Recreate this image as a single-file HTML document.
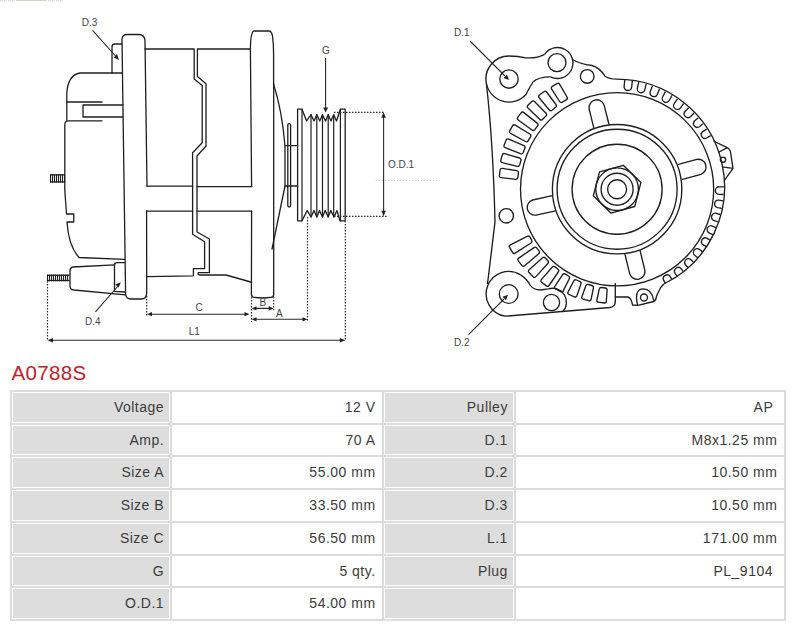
<!DOCTYPE html>
<html><head><meta charset="utf-8">
<style>
html,body{margin:0;padding:0;background:#fff;width:800px;height:627px;overflow:hidden}
body{position:relative;font-family:"Liberation Sans",sans-serif}
svg.draw{position:absolute;left:0;top:0}
.title{position:absolute;left:11.5px;top:360.5px;font-size:20.5px;line-height:24px;color:#c4222a;letter-spacing:0.35px}
.tbl{position:absolute;left:10px;top:390px;width:776.2px;height:231.2px;background:#ddd}
.cl,.cv{position:absolute;box-sizing:border-box;background:#fff}
.cl{border:1.2px solid #fff;background:#ddd}
.tx{position:absolute;font-size:14px;line-height:20px;color:#3c3c3c;letter-spacing:0.5px;white-space:pre}
</style></head><body>
<svg class="draw" width="800" height="360" viewBox="0 0 800 360">
<path d="M0,0.5 H64" stroke="#d4d4d4" stroke-width="1" stroke-dasharray="1,1"/>
<path d="M16,0.5 H46" stroke="#d9cfc2" stroke-width="1"/>
<g fill="none" stroke="#1e1e1e" stroke-width="1.3" stroke-linejoin="round" stroke-linecap="round">
<!-- rear cover top -->
<path d="M112,73 H80 Q68,75 66.8,93 V120.5"/>
<path d="M67,102 H102"/>
<path d="M123,105 H83 V117 H123"/>
<path d="M102,120.8 H68 Q64.8,121.2 64.8,125 V190 L66.5,214 H73.8 V222 H67 Q68.5,246 79,257.5 L124.5,259.4"/>
<!-- stud -->
<rect x="50" y="174.2" width="14.700000000000003" height="1.3" fill="#1e1e1e" stroke="none"/><rect x="50" y="181.29999999999998" width="14.700000000000003" height="1.3" fill="#1e1e1e" stroke="none"/><rect x="50" y="174.2" width="1.1" height="8.400000000000006" fill="#1e1e1e" stroke="none"/><rect x="52" y="174.2" width="1.1" height="8.400000000000006" fill="#1e1e1e" stroke="none"/><rect x="54" y="174.2" width="1.1" height="8.400000000000006" fill="#1e1e1e" stroke="none"/><rect x="56" y="174.2" width="1.1" height="8.400000000000006" fill="#1e1e1e" stroke="none"/><rect x="58" y="174.2" width="1.1" height="8.400000000000006" fill="#1e1e1e" stroke="none"/><rect x="60" y="174.2" width="1.1" height="8.400000000000006" fill="#1e1e1e" stroke="none"/><rect x="62" y="174.2" width="1.1" height="8.400000000000006" fill="#1e1e1e" stroke="none"/><rect x="64" y="174.2" width="1.1" height="8.400000000000006" fill="#1e1e1e" stroke="none"/>
<!-- D3 tab -->
<path d="M122,73 H112 V47 Q112,44 115,44 H122"/>
<!-- left flange -->
<path d="M147,186.2 L145,41 Q144.8,34.5 138.5,34.5 H127 Q122.2,34.5 122,39.5 L125.6,294 Q125.8,299 131,299 H141 Q146.7,299 146.7,293 L146.6,211"/>
<!-- housing -->
<path d="M145,49 H194.2 V79 L202.2,85.4 V142.7 L192.6,152.7 V234.3 L204.6,241.8 V268.6 H193.4 V275.8 L147,276.6"/>
<path d="M250.4,49 H197.4 V76.6 L206,83.8 V146 L197,156 V232 L209.4,239 V272.6 H198.2 Q197.5,275 200,275 H226 L250.8,282"/>
<path d="M147,186.2 H192.6 M197,186.6 H251.8 M146.4,211.2 H192.6 M197,211.2 H251.6"/>
<!-- terminal -->
<path d="M114.5,264.8 L73,267 Q70,267.5 70,271 V286 Q70,289.5 74,290 L125.5,294.9"/>
<path d="M125,262.6 H117 Q114.5,262.6 114.5,265 V291.3 L125.3,292"/>
<rect x="47" y="274.6" width="22.5" height="1.3" fill="#1e1e1e" stroke="none"/><rect x="47" y="279.9" width="22.5" height="1.3" fill="#1e1e1e" stroke="none"/><rect x="47" y="274.6" width="1.1" height="6.599999999999966" fill="#1e1e1e" stroke="none"/><rect x="49" y="274.6" width="1.1" height="6.599999999999966" fill="#1e1e1e" stroke="none"/><rect x="51" y="274.6" width="1.1" height="6.599999999999966" fill="#1e1e1e" stroke="none"/><rect x="53" y="274.6" width="1.1" height="6.599999999999966" fill="#1e1e1e" stroke="none"/><rect x="55" y="274.6" width="1.1" height="6.599999999999966" fill="#1e1e1e" stroke="none"/><rect x="57" y="274.6" width="1.1" height="6.599999999999966" fill="#1e1e1e" stroke="none"/><rect x="59" y="274.6" width="1.1" height="6.599999999999966" fill="#1e1e1e" stroke="none"/><rect x="61" y="274.6" width="1.1" height="6.599999999999966" fill="#1e1e1e" stroke="none"/><rect x="63" y="274.6" width="1.1" height="6.599999999999966" fill="#1e1e1e" stroke="none"/><rect x="65" y="274.6" width="1.1" height="6.599999999999966" fill="#1e1e1e" stroke="none"/><rect x="67" y="274.6" width="1.1" height="6.599999999999966" fill="#1e1e1e" stroke="none"/>
<!-- front flange -->
<path d="M251.6,186.6 L250.4,48 Q250.6,33 253.5,31 H269 Q271.5,31 272.5,36 Q273.6,44 273.6,55 V84"/>
<path d="M251.6,211.2 L251.4,294.5 Q251.6,297.3 254.5,297.3 Q262,298.3 270.8,297.3 Q273.7,297.3 273.7,294.5 V84"/>
<path d="M273.5,84 Q282,110 285,146 V186 L272,249"/>
<!-- pulley -->
<rect x="287.8" y="123.6" width="2.8" height="83.4" rx="1.4"/>
<path d="M285,145.7 H297.6 M285,186 H297.6"/>
<path d="M297.6,220.8 V109.2 H302 L306.6,121 L311,114.7 L314,121 L316.8,114.7 L319.8,121 L322.5,114.7 L325.5,121 L328.2,114.7 L331,121 L333.7,114.7 L336.5,121 L340.4,109.2 H345.2 V220.8 H340 L337,210.6 L334,217 L330.8,210.6 L328.2,217 L325.2,210.6 L322.5,217 L319.5,210.6 L316.8,217 L314,210.6 L311,217 L307.2,210.6 L302,220.8 Z"/>
<path d="M302,109.2 V220.8 M340.4,109.2 V220.8 M311,114.7 V217 M316.8,114.7 V217 M322.5,114.7 V217 M328.2,114.7 V217 M333.7,114.7 V217" stroke-width="1.2"/>
</g>
<!-- dimensions -->
<g fill="none" stroke="#2a2a2a" stroke-width="1.1">
<path d="M47.5,281 V341 M146.7,296 V316 M251.5,297 V322 M273.7,297 V310 M307.5,217 V322 M345.3,221 V341 M334,112.3 H383.6 M334,216.3 H387" stroke-dasharray="1.5,1.5" stroke-width="1.2"/>
<path d="M375.8,180.5 H439.4" stroke="#bbb" stroke-dasharray="1,2"/>
<path d="M151,314.2 H246 M255,308.4 H270 M255,319.3 H304 M51,340.3 H342 M383.6,116 V212 M325.6,58 V109 M92.6,30.4 L115.5,56 M95.4,311.8 L118.5,285.5 M470,41 L505,76 M468.5,334.6 L504,299"/>
</g>
<g fill="#222" stroke="none">
<path d="M147,314.2 l5,-2.1 v4.2z M249.5,314.2 l-5,-2.1 v4.2z"/>
<path d="M251.5,308.4 l5,-2.1 v4.2z M273.7,308.4 l-5,-2.1 v4.2z"/>
<path d="M251.5,319.3 l5,-2.1 v4.2z M307.5,319.3 l-5,-2.1 v4.2z"/>
<path d="M47.5,340.3 l5.5,-2.3 v4.6z M345.3,340.3 l-5.5,-2.3 v4.6z"/>
<path d="M383.6,112.3 l-2.3,5.5 h4.6z M383.6,216.3 l-2.3,-5.5 h4.6z"/>
<path d="M325.6,112.5 l-2.5,-5 h5z"/>
<path d="M119,60 l-5.2,-2.6 l3.2,-3.4z M120.8,282.2 l-2.2,5.2 l-3.4,-3z"/>
<path d="M509,80 l-5.5,-2 l3.5,-3.5z M508,294.7 l-2,5.5 l-3.5,-3.5z"/>
</g>
<g font-family="Liberation Sans, sans-serif" font-size="10" fill="#444">
<text x="81.8" y="25.8">D.3</text>
<text x="85" y="324.6">D.4</text>
<text x="322" y="53.5">G</text>
<text x="388" y="168.2">O.D.1</text>
<text x="195.5" y="310.7">C</text>
<text x="259.6" y="305.8">B</text>
<text x="276" y="316.7">A</text>
<text x="188.7" y="334.7">L1</text>
<text x="454" y="36">D.1</text>
<text x="454" y="346">D.2</text>
</g>
<!-- front view -->
<g fill="none" stroke="#1e1e1e" stroke-width="1.35" stroke-linejoin="round">
<circle cx="617.1" cy="189.2" r="9.5"/>
<circle cx="617.1" cy="189.2" r="16"/>
<circle cx="617.1" cy="189.2" r="21.3"/>
<circle cx="617.1" cy="189.2" r="45"/>
<circle cx="617.1" cy="189.2" r="60"/>
<circle cx="617.1" cy="189.2" r="64.7"/>
<circle cx="617.1" cy="189.2" r="96.6"/>
<polygon points="623.3,165.3 640.9,182.6 634.7,206.5 610.9,213.1 593.3,195.8 599.5,171.9"/>
<path d="M609.0,124.5 L604.1,105.1 A7.75,7.75 0 0 0 589.1,108.8 L593.9,128.3"/>
<path d="M681.6,179.6 L700.9,174.3 A7.75,7.75 0 0 0 696.8,159.4 L677.5,164.7"/>
<path d="M624.9,253.9 L629.6,273.4 A7.75,7.75 0 0 0 644.7,269.7 L640.0,250.2"/>
<path d="M552.3,195.6 L532.7,200.0 A7.75,7.75 0 0 0 536.0,215.1 L555.6,210.8"/>
<path d="M518.4,173.0 Q518.7,171.0 516.7,170.7 L502.4,168.4 Q500.4,168.1 500.1,170.0 L499.4,175.4 Q499.1,177.4 501.1,177.6 L515.5,179.3 Q517.5,179.5 517.8,177.6 Z"/>
<path d="M520.9,160.5 Q521.4,158.6 519.5,158.0 L504.7,153.6 Q502.8,153.1 502.3,155.0 L500.8,160.2 Q500.3,162.1 502.2,162.6 L517.2,166.4 Q519.1,166.9 519.7,164.9 Z"/>
<path d="M524.9,148.3 Q525.7,146.5 523.9,145.7 L508.8,139.1 Q507.0,138.3 506.2,140.1 L504.2,145.1 Q503.4,147.0 505.3,147.7 L520.5,153.7 Q522.4,154.4 523.2,152.6 Z"/>
<path d="M530.5,136.8 Q531.5,135.0 529.8,134.0 L515.2,125.2 Q513.5,124.2 512.5,125.9 L509.8,130.6 Q508.8,132.4 510.6,133.3 L525.5,141.5 Q527.2,142.5 528.2,140.7 Z"/>
<path d="M537.6,125.9 Q538.8,124.3 537.2,123.1 L523.9,112.6 Q522.3,111.3 521.1,112.9 L517.8,117.2 Q516.6,118.8 518.2,120.0 L532.0,130.0 Q533.6,131.2 534.8,129.6 Z"/>
<path d="M546.0,116.1 Q547.4,114.6 546.0,113.2 L534.5,101.5 Q533.1,100.1 531.7,101.5 L527.9,105.3 Q526.5,106.8 528.0,108.1 L539.9,119.4 Q541.3,120.8 542.7,119.3 Z"/>
<path d="M555.6,107.3 Q557.2,106.1 555.9,104.5 L546.6,92.0 Q545.3,90.4 543.8,91.7 L539.5,95.0 Q538.0,96.2 539.2,97.8 L549.1,109.8 Q550.4,111.4 552.0,110.2 Z"/>
<path d="M566.3,99.8 Q568.0,98.8 567.0,97.0 L559.7,84.3 Q558.7,82.5 557.0,83.6 L552.4,86.3 Q550.7,87.4 551.7,89.1 L559.6,101.5 Q560.6,103.2 562.3,102.2 Z"/>
<path d="M529.9,237.1 Q528.9,235.4 527.1,236.3 L510.4,244.8 Q508.6,245.7 509.6,247.4 L512.5,252.4 Q513.5,254.2 515.2,253.1 L531.0,243.0 Q532.6,241.9 531.7,240.2 Z"/>
<path d="M536.9,248.1 Q535.6,246.5 534.0,247.6 L518.7,258.1 Q517.1,259.2 518.3,260.8 L521.8,265.4 Q523.0,267.0 524.6,265.7 L538.7,253.8 Q540.3,252.5 539.0,250.9 Z"/>
<path d="M545.2,258.0 Q543.8,256.6 542.3,258.0 L529.1,269.8 Q527.6,271.1 529.1,272.5 L533.1,276.7 Q534.6,278.1 535.9,276.6 L547.8,263.5 Q549.2,262.0 547.8,260.6 Z"/>
<path d="M555.0,266.9 Q553.4,265.7 552.1,267.2 L541.4,279.6 Q540.1,281.1 541.7,282.3 L546.3,285.9 Q547.9,287.1 549.0,285.5 L558.3,272.0 Q559.4,270.4 557.8,269.1 Z"/>
<path d="M565.3,274.2 Q563.6,273.2 562.5,274.9 L555.0,286.1 Q553.8,287.7 555.6,288.8 L560.6,291.7 Q562.3,292.7 563.2,290.9 L569.3,278.8 Q570.2,277.0 568.5,276.0 Z"/>
<path d="M576.4,280.0 Q574.6,279.2 573.7,281.0 L568.1,291.9 Q567.2,293.7 569.0,294.5 L574.4,296.8 Q576.2,297.5 576.9,295.7 L580.9,284.1 Q581.6,282.2 579.7,281.4 Z"/>
<path d="M588.4,284.5 Q586.5,284.0 585.8,285.8 L581.9,296.7 Q581.3,298.6 583.2,299.1 L588.8,300.7 Q590.7,301.2 591.1,299.3 L593.4,288.0 Q593.8,286.0 591.9,285.5 Z"/>
<path d="M601.6,287.5 Q599.7,287.2 599.2,289.2 L596.9,300.0 Q596.5,301.9 598.5,302.2 L604.2,303.0 Q606.2,303.3 606.3,301.3 L607.1,290.3 Q607.2,288.3 605.2,288.0 Z"/>
<path d="M632.3,80.9 L631.7,87.1 A3.8,3.8 0 0 1 624.1,86.3 L624.8,80.0"/>
<path d="M646.2,83.9 L644.8,89.8 A3.8,3.8 0 0 1 637.4,88.0 L638.8,82.1"/>
<path d="M659.5,88.8 L657.4,94.2 A3.8,3.8 0 0 1 650.3,91.5 L652.4,86.0"/>
<path d="M672.1,95.3 L669.4,100.3 A3.8,3.8 0 0 1 662.7,96.7 L665.4,91.6"/>
<path d="M683.6,103.5 L680.5,107.8 A3.8,3.8 0 0 1 674.3,103.4 L677.5,98.9"/>
<path d="M694.0,113.0 L690.5,116.7 A3.8,3.8 0 0 1 685.0,111.5 L688.6,107.7"/>
<path d="M703.0,123.8 L699.3,126.8 A3.8,3.8 0 0 1 694.5,121.0 L698.3,117.8"/>
<path d="M710.6,135.6 L706.7,138.0 A3.8,3.8 0 0 1 702.7,131.6 L706.7,129.1"/>
<path d="M723.6,194.5 L719.1,194.4 A3.8,3.8 0 0 1 719.2,186.8 L723.9,186.9"/>
<path d="M721.8,208.3 L717.6,207.7 A3.8,3.8 0 0 1 718.7,200.2 L723.0,200.8"/>
<path d="M718.3,221.8 L714.3,220.7 A3.8,3.8 0 0 1 716.4,213.3 L720.4,214.5"/>
<path d="M713.0,234.6 L709.4,233.1 A3.8,3.8 0 0 1 712.4,226.1 L716.1,227.7"/>
<path d="M706.2,246.7 L702.9,244.7 A3.8,3.8 0 0 1 706.7,238.2 L710.1,240.2"/>
<path d="M697.8,257.8 L694.9,255.5 A3.8,3.8 0 0 1 699.6,249.5 L702.6,251.9"/>
<path d="M688.1,267.7 L685.6,265.0 A3.8,3.8 0 0 1 691.0,259.7 L693.6,262.4"/>
<path d="M677.3,276.3 L675.1,273.3 A3.8,3.8 0 0 1 681.2,268.8 L683.4,271.7"/>
<path d="M665.4,283.4 L663.6,280.2 A3.8,3.8 0 0 1 670.2,276.5 L672.0,279.7"/>
<path d="M617.0,79.2 A107.8,107.8 0 0 1 663.8,284.0"/>
<!-- outline -->
<path d="M617,79.2 Q609,79 605,76.2 Q600,68 592,65.5 Q580,64 572.5,59.5"/>
<path d="M544.6,54.3 Q537,58.5 526,57.8 Q518,56 509,56 A23,23 0 0 0 486.3,83"/>
<path d="M544.6,54.3 A15.5,15.5 0 1 1 550.6,76.9"/>
<circle cx="557" cy="62.6" r="9"/>
<path d="M486.3,83 A23,23 0 0 0 526,94.5 Q529,88 533,82 Q538,77 550.6,76.9"/>
<path d="M486.3,83 Q493,140 495,222 L487.5,284"/>
<circle cx="509" cy="79" r="9.2"/>
<circle cx="587.2" cy="76.4" r="6.8"/>
<circle cx="506.3" cy="215.8" r="7.2"/>
<path d="M520.6,274.9 A22.5,22.5 0 1 0 505.2,316.2 L610,307.5 Q615.3,306.5 615.3,302 V297 H628 Q631,297.5 632.6,305 L637.9,305.4 L653.7,301.5 Q656.3,300 656.3,297 L657.2,294.5 L660.7,287.5 L663.8,284"/>
<path d="M520.6,274.9 Q527,279 530,285 Q533,289.5 540,290 L548.5,288.8 A14,14 0 0 1 562.5,312"/>
<circle cx="508.7" cy="294" r="9.4"/>
<circle cx="551.5" cy="302.5" r="8.1"/>
<path d="M615.3,283 V297"/>
<path d="M637.5,305 Q634,289 643.2,288.8 Q652,289 653.7,300.6"/>
<circle cx="644" cy="297.5" r="3.5"/>
<path d="M713.4,141 L727.3,147.7 Q730,149 730.5,152 L733,168.3 L724,180.8 M718.2,152.5 L727.3,147.7 M722,166.9 L733,168.3"/>
<circle cx="723" cy="159.7" r="2.6"/>
</g>
</svg>
<div class="title">A0788S</div>
<div class="tbl"></div>
<div class="cl" style="left:12.00px;top:392.00px;width:158.20px;height:30.74px"></div>
<span class="tx" style="right:635.90px;top:396.90px">Voltage</span>
<div class="cv" style="left:172.20px;top:392.00px;width:210.20px;height:30.74px"></div>
<span class="tx" style="right:424.40px;top:396.90px">12 V</span>
<div class="cl" style="left:384.40px;top:392.00px;width:129.60px;height:30.74px"></div>
<span class="tx" style="right:292.10px;top:396.90px">Pulley</span>
<div class="cv" style="left:516.00px;top:392.00px;width:268.20px;height:30.74px"></div>
<span class="tx" style="right:22.60px;top:396.90px">AP </span>
<div class="cl" style="left:12.00px;top:424.74px;width:158.20px;height:30.74px"></div>
<span class="tx" style="right:635.90px;top:429.64px">Amp.</span>
<div class="cv" style="left:172.20px;top:424.74px;width:210.20px;height:30.74px"></div>
<span class="tx" style="right:424.40px;top:429.64px">70 A</span>
<div class="cl" style="left:384.40px;top:424.74px;width:129.60px;height:30.74px"></div>
<span class="tx" style="right:292.10px;top:429.64px">D.1</span>
<div class="cv" style="left:516.00px;top:424.74px;width:268.20px;height:30.74px"></div>
<span class="tx" style="right:22.60px;top:429.64px">M8x1.25 mm</span>
<div class="cl" style="left:12.00px;top:457.48px;width:158.20px;height:30.74px"></div>
<span class="tx" style="right:635.90px;top:462.38px">Size A</span>
<div class="cv" style="left:172.20px;top:457.48px;width:210.20px;height:30.74px"></div>
<span class="tx" style="right:424.40px;top:462.38px">55.00 mm</span>
<div class="cl" style="left:384.40px;top:457.48px;width:129.60px;height:30.74px"></div>
<span class="tx" style="right:292.10px;top:462.38px">D.2</span>
<div class="cv" style="left:516.00px;top:457.48px;width:268.20px;height:30.74px"></div>
<span class="tx" style="right:22.60px;top:462.38px">10.50 mm</span>
<div class="cl" style="left:12.00px;top:490.22px;width:158.20px;height:30.74px"></div>
<span class="tx" style="right:635.90px;top:495.12px">Size B</span>
<div class="cv" style="left:172.20px;top:490.22px;width:210.20px;height:30.74px"></div>
<span class="tx" style="right:424.40px;top:495.12px">33.50 mm</span>
<div class="cl" style="left:384.40px;top:490.22px;width:129.60px;height:30.74px"></div>
<span class="tx" style="right:292.10px;top:495.12px">D.3</span>
<div class="cv" style="left:516.00px;top:490.22px;width:268.20px;height:30.74px"></div>
<span class="tx" style="right:22.60px;top:495.12px">10.50 mm</span>
<div class="cl" style="left:12.00px;top:522.96px;width:158.20px;height:30.74px"></div>
<span class="tx" style="right:635.90px;top:527.86px">Size C</span>
<div class="cv" style="left:172.20px;top:522.96px;width:210.20px;height:30.74px"></div>
<span class="tx" style="right:424.40px;top:527.86px">56.50 mm</span>
<div class="cl" style="left:384.40px;top:522.96px;width:129.60px;height:30.74px"></div>
<span class="tx" style="right:292.10px;top:527.86px">L.1</span>
<div class="cv" style="left:516.00px;top:522.96px;width:268.20px;height:30.74px"></div>
<span class="tx" style="right:22.60px;top:527.86px">171.00 mm</span>
<div class="cl" style="left:12.00px;top:555.70px;width:158.20px;height:30.74px"></div>
<span class="tx" style="right:635.90px;top:560.60px">G</span>
<div class="cv" style="left:172.20px;top:555.70px;width:210.20px;height:30.74px"></div>
<span class="tx" style="right:424.40px;top:560.60px">5 qty.</span>
<div class="cl" style="left:384.40px;top:555.70px;width:129.60px;height:30.74px"></div>
<span class="tx" style="right:292.10px;top:560.60px">Plug</span>
<div class="cv" style="left:516.00px;top:555.70px;width:268.20px;height:30.74px"></div>
<span class="tx" style="right:22.60px;top:560.60px">PL_9104 </span>
<div class="cl" style="left:12.00px;top:588.44px;width:158.20px;height:30.74px"></div>
<span class="tx" style="right:635.90px;top:593.34px">O.D.1</span>
<div class="cv" style="left:172.20px;top:588.44px;width:210.20px;height:30.74px"></div>
<span class="tx" style="right:424.40px;top:593.34px">54.00 mm</span>
<div class="cl" style="left:384.40px;top:588.44px;width:129.60px;height:30.74px"></div>
<div class="cv" style="left:516.00px;top:588.44px;width:268.20px;height:30.74px"></div>
</body></html>
